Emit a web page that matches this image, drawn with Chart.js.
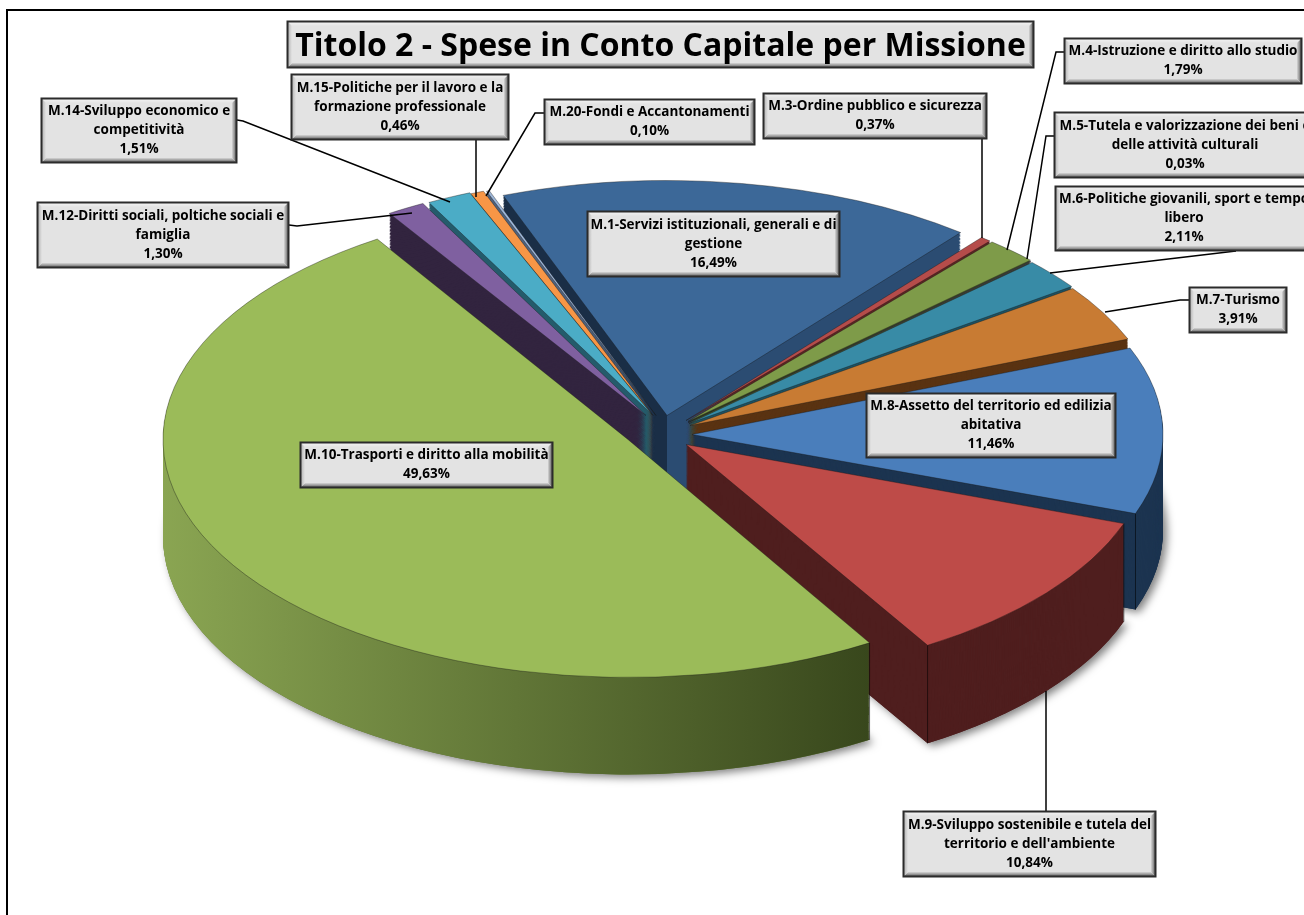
<!DOCTYPE html>
<html>
<head>
<meta charset="utf-8">
<title>Titolo 2 - Spese in Conto Capitale per Missione</title>
<script src="https://cdn.jsdelivr.net/npm/chart.js@4"></script>
<style>
  html, body { margin: 0; padding: 0; background: #fff; overflow: hidden; }
  canvas { display: block; }
</style>
</head>
<body>
<canvas id="chart" width="1304" height="915"></canvas>
<script>
//********************** Data *******************************************
var chartTitle = 'Titolo 2 - Spese in Conto Capitale per Missione';
var categories = [
  'M.1-Servizi istituzionali, generali e di\ngestione',
  'M.3-Ordine pubblico e sicurezza',
  'M.4-Istruzione e diritto allo studio',
  'M.5-Tutela e valorizzazione dei beni e\ndelle attività culturali',
  'M.6-Politiche giovanili, sport e tempo\nlibero',
  'M.7-Turismo',
  'M.8-Assetto del territorio ed edilizia\nabitativa',
  "M.9-Sviluppo sostenibile e tutela del\nterritorio e dell'ambiente",
  'M.10-Trasporti e diritto alla mobilità',
  'M.12-Diritti sociali, poltiche sociali e\nfamiglia',
  'M.14-Sviluppo economico e\ncompetitività',
  'M.15-Politiche per il lavoro e la\nformazione professionale',
  'M.20-Fondi e Accantonamenti'
];
var values = [16.49, 0.37, 1.79, 0.03, 2.11, 3.91, 11.46, 10.84, 49.63, 1.30, 1.51, 0.46, 0.10];

//********************** Styles *****************************************
var topColors = ['#3c6898', '#b54c4a', '#7e9b49', '#6a548c', '#388ba6', '#c87b33', '#4a7ebb',
  '#be4b48', '#9bbb59', '#7f60a0', '#4bacc6', '#f79646', '#9db6d8'];
var wallColors = ['#1a2e46', '#5c2423', '#46562a', '#33284a', '#1d5263', '#5a3312', '#1c3450',
  '#4f1e1e', '#5f7530', '#32243f', '#245b6b', '#8a4f1c', '#50627c'];
// gradient stops across the pie width, only for the walls that change shade
var wallStops = { 0: [[0.5, '#1a2e46'], [0.5, '#2b4c72']], 8: [[0, '#8aa552'], [0.76, '#38471c'], [1, '#38471c']] };

// how far each slice is pulled away from the chart centre, in px
var sliceShift = [[15, -42], [34, -37], [36, -36], [36, -35], [37, -34], [38, -32], [40, -23],
  [34, -13], [-24, -18], [-6, -42], [0, -43], [1, -42], [4, -42]];
var sliceRx = [468, 471, 471, 471, 471, 471, 471, 465, 465, 476, 476, 476, 476];
var sliceRy = [235, 235, 235, 235, 235, 235, 235, 235, 238, 240, 240, 240, 240];
var wallDepth = [85, 85, 85, 85, 85, 85, 96, 98, 97, 85, 85, 85, 85];
var wallShrink = [0.31, 0.3, 0.3, 0.3, 0.3, 0.3, 0, 0, 0, 0.28, 0.28, 0.28, 0.28];
// back slices first, the big front ones last
var drawOrder = [0, 12, 11, 10, 9, 1, 2, 3, 4, 5, 6, 7, 8];
// outer corners that show a vertical edge on the wall
var wallEdges = { 6: ['endAngle'], 7: ['startAngle', 'endAngle'], 8: ['startAngle'] };

// label boxes: x, y, w, h
var labelBoxes = [
  [587, 211, 253, 66], [763, 93, 224, 46], [1064, 38, 238, 46], [1054, 112, 262, 66],
  [1055, 186, 258, 65], [1189, 287, 98, 46], [866, 393, 250, 65], [903, 811, 253, 66],
  [300, 442, 253, 46], [37, 202, 252, 66], [41, 98, 196, 65], [291, 74, 218, 66], [544, 99, 211, 46]
];
var titleBox = [287, 21, 747, 47];
var leaderLines = [
  null,
  [[982, 139], [982, 238]],
  [[1064, 52], [1056, 52], [1007, 250]],
  [[1054, 136], [1046, 136], [1027, 259]],
  [[1236, 251], [1050, 273]],
  [[1189, 300], [1180, 300], [1105, 312]],
  null,
  [[1046, 811], [1046, 691]],
  null,
  [[289, 225], [297, 226], [412, 213]],
  [[237, 120], [243, 121], [450, 202]],
  [[476, 140], [476, 197]],
  [[544, 113], [535, 113], [486, 196]]
];

function sliceTransform(ctx, el, i, t) {
  var R = el.outerRadius;
  ctx.translate(el.x + sliceShift[i][0], el.y + sliceShift[i][1] + wallDepth[i] * t);
  ctx.scale(sliceRx[i] / R, (sliceRy[i] / R) * (1 - wallShrink[i] * t));
  ctx.translate(-el.x, -el.y);
}

function cornerPoint(el, i, angle, t) {
  var yScale = sliceRy[i] * (1 - wallShrink[i] * t);
  return [
    el.x + sliceShift[i][0] + Math.cos(angle) * sliceRx[i],
    el.y + sliceShift[i][1] + wallDepth[i] * t + Math.sin(angle) * yScale
  ];
}

function drawWithFill(ctx, el, fill, borderWidth) {
  var copy = Object.create(el);
  copy.options = Object.assign({}, el.options, { backgroundColor: fill, borderWidth: borderWidth });
  copy.draw(ctx);
}

function wallFill(ctx, el, i) {
  if (!wallStops[i]) return wallColors[i];
  var g = ctx.createLinearGradient(el.x - el.outerRadius, 0, el.x + el.outerRadius, 0);
  wallStops[i].forEach(function (s) { g.addColorStop(s[0], s[1]); });
  return g;
}

function drawBevelBox(ctx, b) {
  var x = b[0], y = b[1], w = b[2], h = b[3], e = 5;
  ctx.fillStyle = '#e3e3e3';
  ctx.fillRect(x, y, w, h);
  // bevel bands
  var g = ctx.createLinearGradient(0, y, 0, y + e);
  g.addColorStop(0, '#f7f7f7'); g.addColorStop(1, '#e3e3e3');
  bevel(ctx, [[x, y], [x + w, y], [x + w - e, y + e], [x + e, y + e]], g);
  g = ctx.createLinearGradient(0, y + h, 0, y + h - e);
  g.addColorStop(0, '#4a4a4a'); g.addColorStop(1, '#d6d6d6');
  bevel(ctx, [[x, y + h], [x + w, y + h], [x + w - e, y + h - e], [x + e, y + h - e]], g);
  g = ctx.createLinearGradient(x, 0, x + e, 0);
  g.addColorStop(0, '#a8a8a8'); g.addColorStop(1, '#e3e3e3');
  bevel(ctx, [[x, y], [x + e, y + e], [x + e, y + h - e], [x, y + h]], g);
  g = ctx.createLinearGradient(x + w, 0, x + w - e, 0);
  g.addColorStop(0, '#4a4a4a'); g.addColorStop(1, '#d6d6d6');
  bevel(ctx, [[x + w, y], [x + w - e, y + e], [x + w - e, y + h - e], [x + w, y + h]], g);
  ctx.strokeStyle = '#2b2b2b';
  ctx.lineWidth = 2;
  ctx.strokeRect(x + 0.5, y + 0.5, w - 1, h - 1);
}

function bevel(ctx, pts, fill) {
  ctx.fillStyle = fill;
  ctx.beginPath();
  pts.forEach(function (p, n) { if (n) ctx.lineTo(p[0], p[1]); else ctx.moveTo(p[0], p[1]); });
  ctx.closePath();
  ctx.fill();
}

var pie3d = {
  id: 'pie3d',
  beforeDraw: function (chart) {
    var ctx = chart.ctx;
    ctx.save();
    ctx.strokeStyle = '#000';
    ctx.lineWidth = 2;
    ctx.strokeRect(7, 10, 1400, 1000);
    ctx.restore();
  },
  beforeDatasetsDraw: function (chart) {
    var ctx = chart.ctx;
    var arcs = chart.getDatasetMeta(0).data;
    var steps = 100;

    // soft shadow on the white behind the pie
    drawOrder.forEach(function (i) {
      ctx.save();
      ctx.shadowColor = 'rgba(0,0,0,0.5)';
      ctx.shadowBlur = 8;
      ctx.shadowOffsetX = 4;
      ctx.shadowOffsetY = 3;
      sliceTransform(ctx, arcs[i], i, 1);
      drawWithFill(ctx, arcs[i], wallColors[i], 0);
      ctx.restore();
    });

    drawOrder.forEach(function (i) {
      var el = arcs[i];
      for (var s = steps; s > 0; s--) {
        ctx.save();
        sliceTransform(ctx, el, i, s / steps);
        drawWithFill(ctx, el, wallFill(ctx, el, i), 0);
        ctx.restore();
      }
      (wallEdges[i] || []).forEach(function (side) {
        var p0 = cornerPoint(el, i, el[side], 0), p1 = cornerPoint(el, i, el[side], 1);
        ctx.strokeStyle = 'rgba(0,0,0,0.55)';
        ctx.lineWidth = 1;
        ctx.beginPath();
        ctx.moveTo(p0[0], p0[1]);
        ctx.lineTo(p1[0], p1[1]);
        ctx.stroke();
      });
      ctx.save();
      sliceTransform(ctx, el, i, 0);
      drawWithFill(ctx, el, topColors[i], 0.7);
      ctx.restore();
    });
    return false;
  },
  afterDraw: function (chart) {
    var ctx = chart.ctx;
    ctx.save();
    // leader lines go under the boxes
    ctx.strokeStyle = '#000';
    ctx.lineWidth = 1.5;
    leaderLines.forEach(function (line) {
      if (!line) return;
      ctx.beginPath();
      line.forEach(function (p, n) { if (n) ctx.lineTo(p[0], p[1]); else ctx.moveTo(p[0], p[1]); });
      ctx.stroke();
    });

    ctx.textAlign = 'center';
    ctx.textBaseline = 'middle';
    categories.forEach(function (name, i) {
      var b = labelBoxes[i];
      drawBevelBox(ctx, b);
      var lines = name.split('\n');
      lines.push(values[i].toFixed(2).replace('.', ',') + '%');
      ctx.fillStyle = '#000';
      ctx.font = 'bold 13.5px "Open Sans"';
      lines.forEach(function (txt, n) {
        ctx.fillText(txt, b[0] + b[2] / 2, b[1] + b[3] / 2 + (n - (lines.length - 1) / 2) * 19, b[2] - 7);
      });
    });

    drawBevelBox(ctx, titleBox);
    ctx.fillStyle = '#000';
    ctx.font = 'bold 32px "Open Sans"';
    ctx.fillText(chartTitle, titleBox[0] + titleBox[2] / 2, titleBox[1] + titleBox[3] / 2 + 2, titleBox[2] - 12);
    ctx.restore();
  }
};

new Chart(document.getElementById('chart'), {
  type: 'pie',
  data: {
    labels: categories,
    datasets: [{
      data: values,
      backgroundColor: topColors,
      borderColor: 'rgba(20,20,20,0.7)',
      borderWidth: 0.7
    }]
  },
  options: {
    responsive: false,
    animation: false,
    rotation: -20.5,
    events: [],
    plugins: { legend: { display: false }, tooltip: { enabled: false } }
  },
  plugins: [pie3d]
});
</script>
</body>
</html>
